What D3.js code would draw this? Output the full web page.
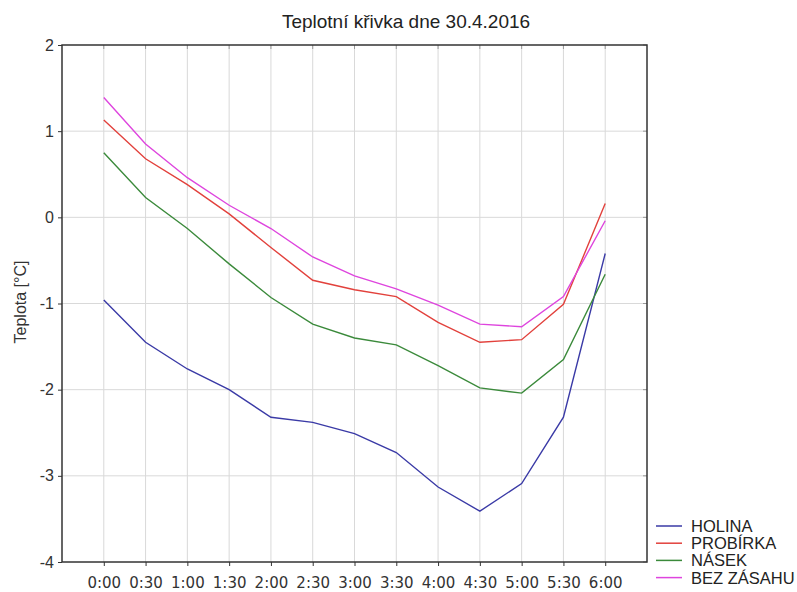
<!DOCTYPE html>
<html>
<head>
<meta charset="utf-8">
<script src="https://cdn.jsdelivr.net/npm/d3@7"></script>
<style>
  body { margin: 0; background: #fff; }
  svg { font-family: "Liberation Sans", Arial, sans-serif; }
</style>
</head>
<body>
<div id="chart"></div>
<script>
const times = ["0:00","0:30","1:00","1:30","2:00","2:30","3:00","3:30","4:00","4:30","5:00","5:30","6:00"];
const seriesNames = ["HOLINA", "PROBÍRKA", "NÁSEK", "BEZ ZÁSAHU"];
const holina   = [-0.96, -1.45, -1.76, -2.00, -2.32, -2.38, -2.51, -2.73, -3.13, -3.41, -3.09, -2.32, -0.42];
const probirka = [1.13, 0.68, 0.38, 0.04, -0.35, -0.73, -0.84, -0.92, -1.22, -1.45, -1.42, -1.01, 0.16];
const nasek    = [0.75, 0.23, -0.13, -0.54, -0.93, -1.24, -1.40, -1.48, -1.72, -1.98, -2.04, -1.65, -0.66];
const bezZasahu = [1.39, 0.85, 0.46, 0.14, -0.13, -0.46, -0.68, -0.83, -1.02, -1.24, -1.27, -0.92, -0.04];
const yTicks = [2, 1, 0, -1, -2, -3, -4];
const colors = ["#3a3aa6", "#e2413c", "#3b8a3b", "#de45de"];

const allSeries = [holina, probirka, nasek, bezZasahu];

const svgWidth = 797, svgHeight = 592;
const margin = { top: 45, right: 150, bottom: 30, left: 62 };
const width = 647 - margin.left;
const height = 562 - margin.top;

const svg = d3.select("#chart").append("svg")
    .attr("width", svgWidth)
    .attr("height", svgHeight);

const g = svg.append("g")
    .attr("transform", "translate(" + margin.left + "," + margin.top + ")");

const x = d3.scaleLinear().domain([-1, times.length]).range([0, width]);
const y = d3.scaleLinear().domain([-4, 2]).range([height, 0]);

// grid
g.append("g").selectAll("line")
    .data(times).enter().append("line")
    .attr("x1", (d, i) => x(i)).attr("x2", (d, i) => x(i))
    .attr("y1", 0).attr("y2", height)
    .attr("stroke", "#d9d9d9").attr("stroke-width", 1);
g.append("g").selectAll("line")
    .data(yTicks.slice(1, -1)).enter().append("line")
    .attr("x1", 0).attr("x2", width)
    .attr("y1", d => y(d)).attr("y2", d => y(d))
    .attr("stroke", "#d9d9d9").attr("stroke-width", 1);

// inner ticks on top and right
g.append("g").selectAll("line")
    .data(times).enter().append("line")
    .attr("x1", (d, i) => x(i)).attr("x2", (d, i) => x(i))
    .attr("y1", 0).attr("y2", 4)
    .attr("stroke", "#999");
g.append("g").selectAll("line")
    .data(yTicks).enter().append("line")
    .attr("x1", width - 4).attr("x2", width)
    .attr("y1", d => y(d)).attr("y2", d => y(d))
    .attr("stroke", "#999");

// lines
const line = d3.line()
    .x((d, i) => x(i))
    .y(d => y(d));

allSeries.forEach((s, k) => {
    g.append("path")
        .datum(s)
        .attr("fill", "none")
        .attr("stroke", colors[k])
        .attr("stroke-width", 1.4)
        .attr("d", line);
});

// frame
g.append("rect")
    .attr("x", 0).attr("y", 0)
    .attr("width", width).attr("height", height)
    .attr("fill", "none")
    .attr("stroke", "#333").attr("stroke-width", 1.5);

// y axis
const yAxis = g.append("g")
    .call(d3.axisLeft(y).tickValues(yTicks).tickSize(4).tickFormat(d => String(d)));
yAxis.select(".domain").remove();
yAxis.selectAll("line").attr("stroke", "#333");
yAxis.selectAll("text")
    .attr("font-size", 16)
    .attr("fill", "#333")
    .attr("font-family", "Liberation Sans, Arial, sans-serif")
    .attr("x", -8);

// x axis
const xAxis = g.append("g")
    .attr("transform", "translate(0," + height + ")")
    .call(d3.axisBottom(x).tickValues(d3.range(times.length)).tickSize(4).tickFormat(i => times[i]));
xAxis.select(".domain").remove();
xAxis.selectAll("line").attr("stroke", "#333");
xAxis.selectAll("text")
    .attr("font-size", 15)
    .attr("fill", "#333")
    .attr("font-family", "DejaVu Sans, sans-serif")
    .attr("y", 15);

// title
svg.append("text")
    .attr("x", 406).attr("y", 28)
    .attr("text-anchor", "middle")
    .attr("font-size", 19)
    .attr("fill", "#222")
    .text("Teplotní křivka dne 30.4.2016");

// y label
svg.append("text")
    .attr("transform", "translate(26,302) rotate(-90)")
    .attr("text-anchor", "middle")
    .attr("font-size", 16)
    .attr("fill", "#333")
    .text("Teplota [°C]");

// legend
const legend = svg.append("g").attr("transform", "translate(656,526)");
seriesNames.forEach((name, k) => {
    const row = legend.append("g").attr("transform", "translate(0," + (k * 17.2) + ")");
    row.append("line")
        .attr("x1", 0).attr("x2", 26)
        .attr("y1", 0).attr("y2", 0)
        .attr("stroke", colors[k]).attr("stroke-width", 1.5);
    row.append("text")
        .attr("x", 35).attr("y", 6)
        .attr("font-size", 16.5)
        .attr("fill", "#222")
        .text(name);
});
</script>
</body>
</html>
